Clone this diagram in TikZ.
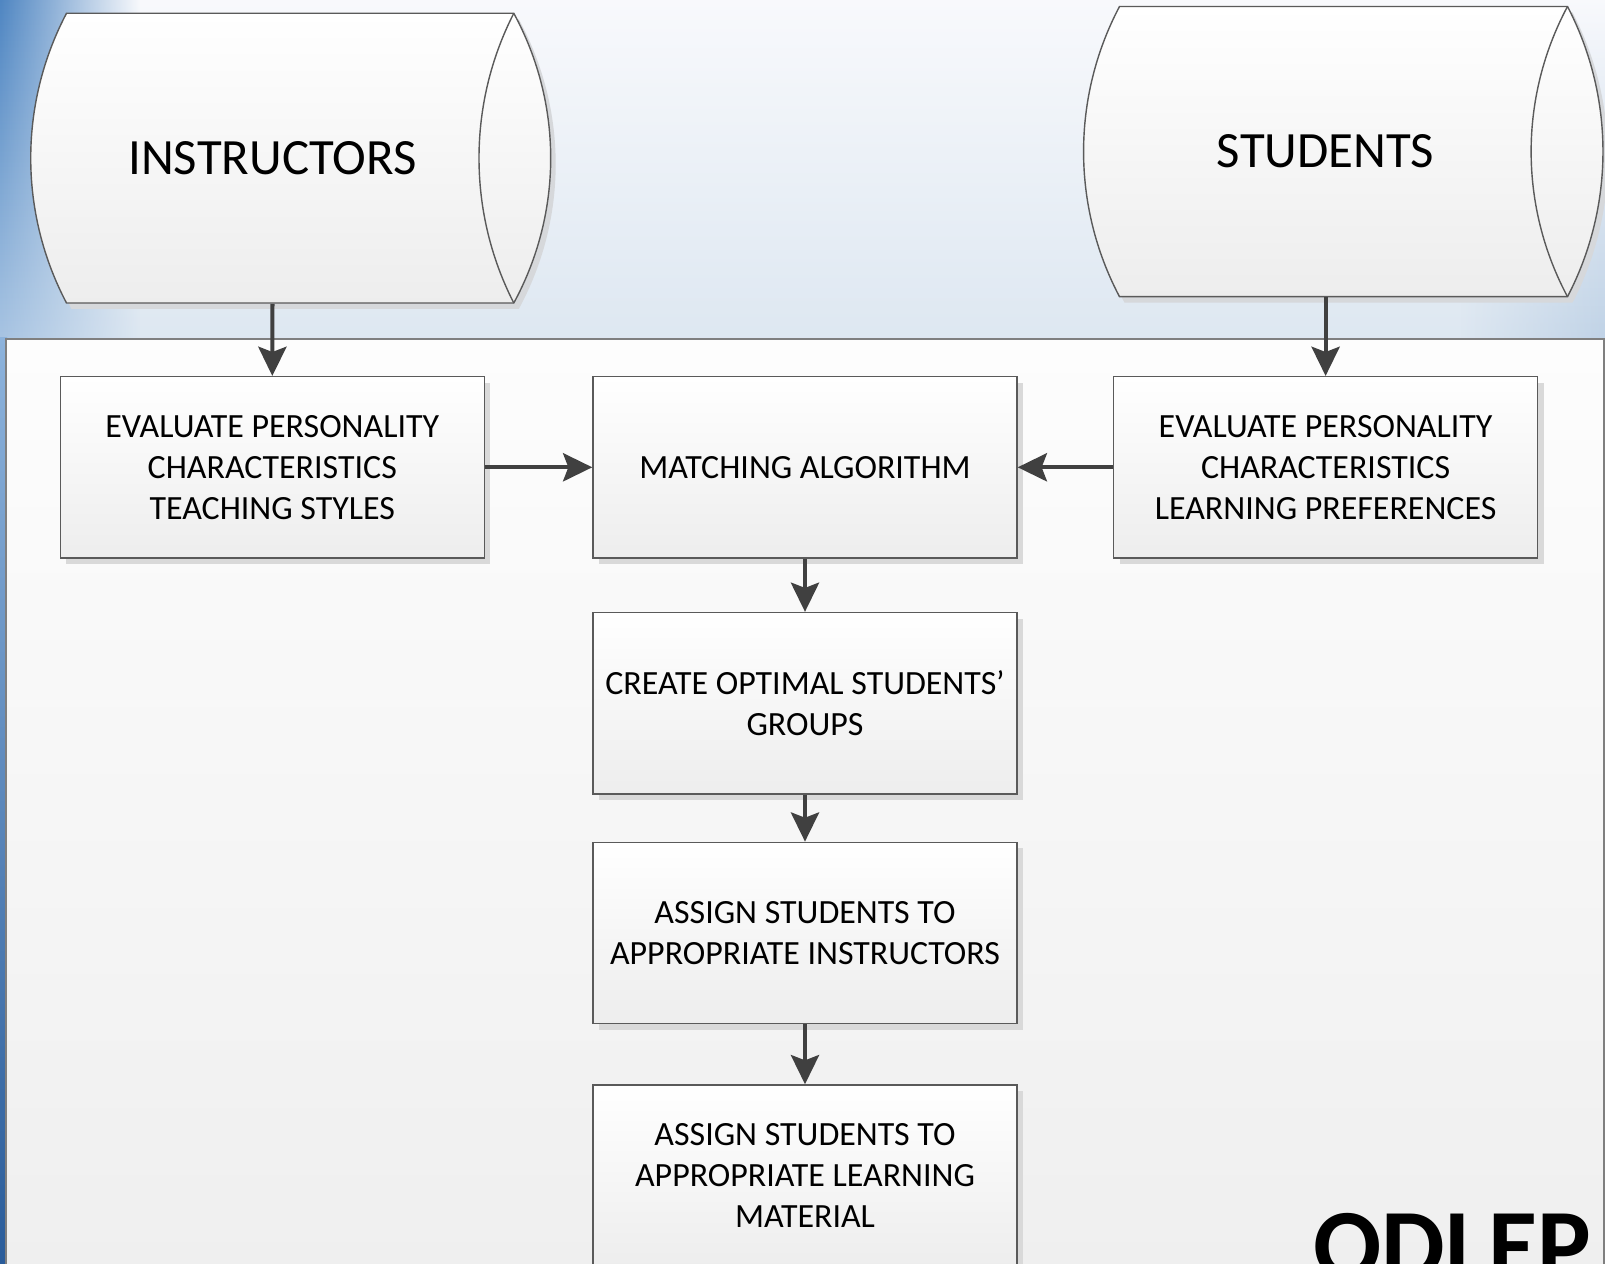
\documentclass[tikz,border=0pt]{standalone}
\usepackage{fontspec}
\setmainfont{Carlito}
\usetikzlibrary{arrows.meta,shadows,fadings}
\definecolor{bgtop}{HTML}{F8F9FC}
\definecolor{bgbot}{HTML}{DDE7F1}
\definecolor{edgeblue}{HTML}{4F86C2}
\definecolor{edgeblue2}{HTML}{A9C5E3}
\definecolor{rightblue}{HTML}{BFD2E6}
\definecolor{stripblue1}{HTML}{8DB3DC}
\definecolor{stripblue2}{HTML}{2A5C9A}
\definecolor{arrowgray}{HTML}{404040}
\definecolor{linegray}{HTML}{5A5A5A}
\definecolor{panelgray}{HTML}{7F7F7F}
\definecolor{paneltop}{HTML}{FDFDFD}
\definecolor{panelbot}{HTML}{EFEFEF}
\definecolor{shadowgray}{HTML}{D6D8DB}
\tikzfading[name=fadeoutright, left color=transparent!0, right color=transparent!100]
\tikzfading[name=fadeoutleft, left color=transparent!100, right color=transparent!0]
\begin{document}
\begin{tikzpicture}[x=0.01cm, y=-0.01cm,
  stepbox/.style={draw=linegray, line width=0.4pt, top color=white, bottom color=black!7,
    minimum width=4.238cm, minimum height=1.812cm, inner sep=0pt, align=center,
    font=\fontsize{9.65pt}{11.67pt}\selectfont,
    drop shadow={shadow xshift=0.06cm, shadow yshift=-0.06cm, fill=black!15, opacity=1}},
  cyltext/.style={inner sep=0pt, font=\fontsize{14.46pt}{17pt}\selectfont},
  flow/.style={draw=arrowgray, line width=1.14pt, -{Stealth[length=8.3pt, width=8pt, inset=1.5pt]}},
  cylshape/.style={draw=linegray, line width=0.4pt, top color=white, bottom color=black!7},
  cylshadow/.style={fill=shadowgray}
]
\useasboundingbox (0,0) rectangle (1605,1264);
\begin{scope}
\clip (0,0) rectangle (1605,1264);
% background
\shade[top color=bgtop, bottom color=bgbot] (0,0) rectangle (1605,345);
\shade[top color=edgeblue, bottom color=edgeblue2, path fading=fadeoutright] (0,0) rectangle (140,345);
\shade[top color=bgtop, bottom color=rightblue, path fading=fadeoutleft] (1460,0) rectangle (1605,345);
\shade[top color=stripblue1, bottom color=stripblue2] (0,338) rectangle (7,1264);
% panel
\path[draw=panelgray, line width=0.4pt, top color=paneltop, bottom color=panelbot] (6,339) rectangle (1604,1275);
% instructors cylinder
\fill[cylshadow, shift={(5,6)}] (66.5,13.3) -- (513.8,13.3) .. controls (563,104) and (563,212.3) .. (513.8,303) -- (66.5,303) .. controls (18.8,212.3) and (18.8,104) .. cycle;
\path[cylshape] (66.5,13.3) -- (513.8,13.3) .. controls (563,104) and (563,212.3) .. (513.8,303) -- (66.5,303) .. controls (18.8,212.3) and (18.8,104) .. cycle;
\draw[draw=linegray, line width=0.4pt] (513.8,13.3) .. controls (467.4,104) and (467.4,212.3) .. (513.8,303);
% students cylinder
\fill[cylshadow, shift={(5,6)}] (1119.5,6.5) -- (1567.5,6.5) .. controls (1614.8,97.3) and (1614.8,205.9) .. (1567.5,296.7) -- (1119.5,296.7) .. controls (1071.6,205.9) and (1071.6,97.3) .. cycle;
\path[cylshape] (1119.5,6.5) -- (1567.5,6.5) .. controls (1614.8,97.3) and (1614.8,205.9) .. (1567.5,296.7) -- (1119.5,296.7) .. controls (1071.6,205.9) and (1071.6,97.3) .. cycle;
\draw[draw=linegray, line width=0.4pt] (1567.5,6.5) .. controls (1519,97.3) and (1519,205.9) .. (1567.5,296.7);
% cylinder labels
\node[cyltext, minimum height=2.897cm] (inst) at (272.5,158.2) {INSTRUCTORS};
\node[cyltext, minimum height=2.902cm] (stud) at (1325.6,151.6) {STUDENTS};
% process boxes
\node[stepbox] (b1) at (272.3,467.3) {EVALUATE PERSONALITY\\CHARACTERISTICS\\TEACHING STYLES};
\node[stepbox] (b2) at (805,467.3) {MATCHING ALGORITHM};
\node[stepbox] (b3) at (1325.6,467.3) {EVALUATE PERSONALITY\\CHARACTERISTICS\\LEARNING PREFERENCES};
\node[stepbox] (b4) at (805,703.2) {CREATE OPTIMAL STUDENTS’\\GROUPS};
\node[stepbox] (b5) at (805,933) {ASSIGN STUDENTS TO\\APPROPRIATE INSTRUCTORS};
\node[stepbox] (b6) at (805,1175.6) {ASSIGN STUDENTS TO\\APPROPRIATE LEARNING\\MATERIAL};
% connectors
\draw[flow] (inst.south) -- (b1.north);
\draw[flow] (stud.south) -- (b3.north);
\draw[flow] (b1.east) -- (b2.west);
\draw[flow] (b3.west) -- (b2.east);
\draw[flow] (b2.south) -- (b4.north);
\draw[flow] (b4.south) -- (b5.north);
\draw[flow] (b5.south) -- (b6.north);
% title
\node[anchor=base west, inner sep=0pt, font=\fontsize{28.7pt}{30pt}\selectfont\bfseries] (odlep) at (1313,1279) {ODLEP};
\end{scope}
\end{tikzpicture}
\end{document}
